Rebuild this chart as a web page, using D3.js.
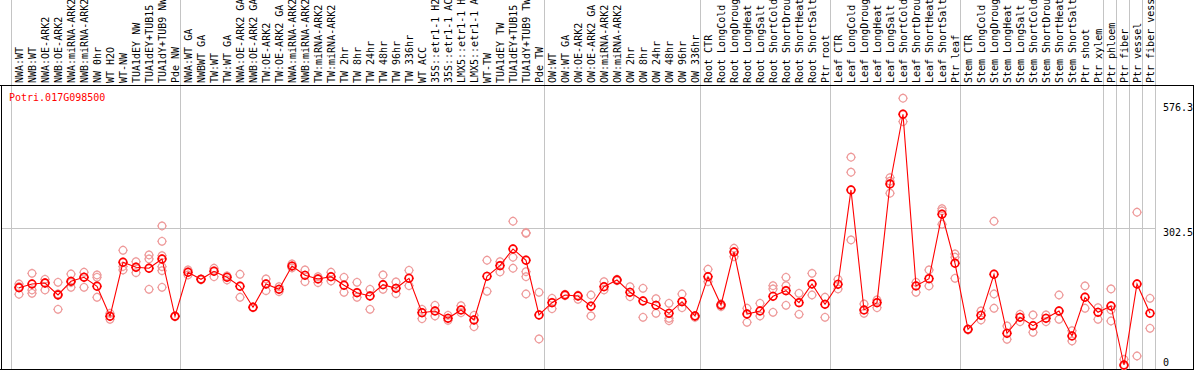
<!DOCTYPE html>
<html>
<head>
<meta charset="utf-8">
<script src="https://cdn.jsdelivr.net/npm/d3@7"></script>
<style>
  body { margin: 0; background: #fff; }
  text { font-family: "DejaVu Sans Mono", "Liberation Mono", monospace; font-size: 10px; }
</style>
</head>
<body>
<svg id="chart"></svg>
<script>
var geneId = "Potri.017G098500";

var sampleLabels = [
  "NWA:WT", "NWB:WT", "NWA:OE-ARK2", "NWB:OE-ARK2", "NWA:miRNA-ARK2", "NWB:miRNA-ARK2",
  "NW 0hr", "WT H2O", "WT-NW", "TUA1dEY NW", "TUA1dEY+TUB15 NW", "TUA1dY+TUB9 NW", "Pde NW",
  "NWA:WT GA", "NWBWT GA", "TW:WT", "TW:WT GA", "NWA:OE-ARK2 GA", "NWB:OE-ARK2 GA",
  "TW:OE-ARK2", "TW:OE-ARK2 GA", "NWA:miRNA-ARK2 GA", "NWB:miRNA-ARK2 GA", "TW:miRNA-ARK2",
  "TW:miRNA-ARK2 GA", "TW 2hr", "TW 8hr", "TW 24hr", "TW 48hr", "TW 96hr", "TW 336hr",
  "WT ACC", "35S::etr1-1 H2O", "35S::etr1-1 ACC", "LMX5::etr1-1 H2O", "LMX5::etr1-1 ACC",
  "WT-TW", "TUA1dEY TW", "TUA1dEY+TUB15 TW", "TUA1dY+TUB9 TW", "Pde TW",
  "OW:WT", "OW:WT GA", "OW:OE-ARK2", "OW:OE-ARK2 GA", "OW:miRNA-ARK2", "OW:miRNA-ARK2 GA",
  "OW 2hr", "OW 8hr", "OW 24hr", "OW 48hr", "OW 96hr", "OW 336hr",
  "Root CTR", "Root LongCold", "Root LongDrought", "Root LongHeat", "Root LongSalt",
  "Root ShortCold", "Root ShortDrought", "Root ShortHeat", "Root ShortSalt", "Ptr root",
  "Leaf CTR", "Leaf LongCold", "Leaf LongDrought", "Leaf LongHeat", "Leaf LongSalt",
  "Leaf ShortCold", "Leaf ShortDrought", "Leaf ShortHeat", "Leaf ShortSalt", "Ptr leaf",
  "Stem CTR", "Stem LongCold", "Stem LongDrought", "Stem LongHeat", "Stem LongSalt",
  "Stem ShortCold", "Stem ShortDrought", "Stem ShortHeat", "Stem ShortSalt", "Ptr shoot", "Ptr xylem",
  "Ptr phloem", "Ptr fiber", "Ptr vessel", "Ptr fiber vessel"
];

// number of samples in each block between the grey separators
var groupSizes = [13, 28, 12, 10, 10, 11, 1, 1, 1, 1];

var meanValues = [
  171.6, 179.7, 181.9, 155.6, 185.6, 194.4, 174.7, 108.9, 227.3, 216.4, 214.2, 234.5, 108.9,
  205.4, 190.0, 207.6, 194.4, 174.7, 128.7, 179.7, 168.1, 219.0, 198.8, 190.7, 195.7, 176.9,
  160.7, 153.4, 178.2, 170.3, 192.2, 116.8, 120.6, 104.5, 122.8, 100.8, 196.6, 219.9, 256.5,
  231.7, 111.8,
  138.8, 155.6, 153.4, 131.0, 173.8, 188.5, 161.5, 142.5, 133.0, 115.5, 141.0, 109.6,
  195.7, 133.7, 249.9, 114.0, 120.6, 152.7, 165.1, 138.8, 179.7, 135.2,
  179.0, 385.8, 122.8, 138.8, 398.9, 551.7, 175.4, 191.4, 332.5, 225.1,
  80.4, 111.1, 201.0, 71.6, 106.7, 88.3, 104.5, 120.6, 65.8, 150.6, 117.7,
  131.5, 2.2, 179.7, 115.5
];

var replicateValues = [
  [179.7, 173.8, 157.2], [203, 166.6, 159.3], [190, 166.6, 182], [183.4, 124.2, 158],
  [201.6, 172.4, 183], [205.4, 172.4, 195], [199.5, 194.4, 150.6], [115.5, 102.4, 109],
  [253.6, 210.4, 218], [228.6, 204.5, 216], [243.3, 234.5, 168.1],
  [306.9, 273.3, 241.8, 217.7, 208.9, 172.4], [110, 108],
  [210.4, 199.5], [191, 189], [214.2, 195.7], [197.3, 188.5], [201, 150.6], [129, 128],
  [190.7, 165.1], [173.8, 162.9], [223.6, 215], [210.4, 184.8], [195.7, 182.6],
  [205.4, 186.3], [194.4, 161.5], [183.4, 150.6], [168.1, 124.2], [199.5, 168.1],
  [184.1, 158.5], [209.7, 176], [124.2, 103.7], [133, 109.6], [111.1, 100], [132.2, 116.8],
  [111.1, 86.1], [231.7, 163.7], [228.6, 206.1], [317.2, 238.3, 214.2],
  [292.2, 290.8, 206.7, 195.7, 157.8], [161.5, 59.2],
  [148.4, 125.6], [157, 154], [146.2, 155], [155.6, 109.6], [184.8, 166.6], [190, 187],
  [173.8, 151.9], [170.3, 106.7], [147.5, 115.5], [137.4, 104.5, 99.3], [157.8, 127.8],
  [106.5, 110],
  [212, 184.8], [130, 136], [258, 239.6], [126.5, 95.8], [137.4, 109.6], [176, 168.8, 117.7],
  [194.4, 176, 133], [159.3, 113.3], [203, 155.6], [150.6, 106.7],
  [190, 168.8], [457.5, 424.6, 276.2], [135.9, 115.5], [144.7, 127.8], [412.8, 378.6, 405],
  [586.8, 535.5], [183.4, 161.5], [210.4, 175.4], [344.8, 310.6, 340], [245.5, 238.3, 192.2],
  [78.9, 81], [120.6, 100.8], [317.2, 157.8, 126.5], [87.7, 58.5], [113.3, 97.1],
  [111.8, 73.9], [111.8, 97.1], [155.6, 102.4], [77.4, 54.8], [175.4, 126.5], [127.8, 102.4],
  [168.8, 122.8, 98.6], [14.6, 0], [336.9, 21.9], [148.4, 82.6]
];

var yTicks = [0, 302.5, 576.3];
var gridValues = [302.5];

var width = 1194, height = 370;
var svg = d3.select("#chart").attr("width", width).attr("height", height);

var x = d3.scaleBand()
  .domain(d3.range(sampleLabels.length))
  .range([11, 1155])
  .padding(0);
var y = d3.scaleLinear().domain([0, 576.3]).range([366, 103]);

function cx(i) { return x(i) + 8; }

svg.append("rect").attr("width", width).attr("height", height).attr("fill", "#fff");

// group separators
var bounds = [0];
groupSizes.forEach(function(n) { bounds.push(bounds[bounds.length - 1] + n); });
svg.selectAll("line.sep")
  .data(bounds)
  .enter().append("line")
  .attr("class", "sep")
  .attr("x1", function(b) { return (b < sampleLabels.length ? x(b) : x.range()[1]) + 0.5; })
  .attr("x2", function(b) { return (b < sampleLabels.length ? x(b) : x.range()[1]) + 0.5; })
  .attr("y1", 0).attr("y2", 369)
  .attr("stroke", "#c4c4c4").attr("stroke-width", 1);

svg.selectAll("line.hgrid")
  .data(gridValues)
  .enter().append("line")
  .attr("class", "hgrid")
  .attr("x1", 2).attr("x2", 1155)
  .attr("y1", function(d) { return Math.round(y(d)) + 0.5; })
  .attr("y2", function(d) { return Math.round(y(d)) + 0.5; })
  .attr("stroke", "#c4c4c4");

// frame
svg.append("line").attr("x1", 0).attr("x2", width).attr("y1", 85.5).attr("y2", 85.5).attr("stroke", "#000");
svg.append("line").attr("x1", 0).attr("x2", width).attr("y1", 369.5).attr("y2", 369.5).attr("stroke", "#000");
svg.append("line").attr("x1", 1.5).attr("x2", 1.5).attr("y1", 85).attr("y2", 370).attr("stroke", "#000");
svg.append("line").attr("x1", 1193.5).attr("x2", 1193.5).attr("y1", 85).attr("y2", 370).attr("stroke", "#000");

// sample labels, rotated (long ones run off the top, as in the original)
svg.append("g")
  .selectAll("text")
  .data(sampleLabels)
  .enter().append("text")
  .attr("transform", function(d, i) { return "translate(" + (cx(i) + 3.5) + ",83) rotate(-90)"; })
  .attr("fill", "#000")
  .text(function(d) { return d; });

svg.append("text")
  .attr("x", 9).attr("y", 101)
  .attr("fill", "#ff0000")
  .text(geneId);

// right-hand value labels
svg.selectAll("text.ytick")
  .data(yTicks)
  .enter().append("text")
  .attr("class", "ytick")
  .attr("x", 1163)
  .attr("y", function(d) { return Math.min(y(d) + 8, 366); })
  .attr("fill", "#000")
  .text(function(d) { return d; });

function marker(g, r) {
  g.append("circle").attr("r", r).attr("fill", "none");
  g.append("path")
    .attr("stroke-width", 1)
    .attr("d", "M0," + (-r - 1) + "V" + (-r) + "M0," + r + "V" + (r + 1) +
               "M" + (-r - 1) + ",0H" + (-r) + "M" + r + ",0H" + (r + 1));
}

// replicates
var reps = [];
replicateValues.forEach(function(vals, i) {
  vals.forEach(function(v) { reps.push({ i: i, v: v }); });
});
var repG = svg.append("g").attr("stroke", "#ee9a9a").attr("stroke-width", 1.2);
repG.selectAll("g")
  .data(reps)
  .enter().append("g")
  .attr("transform", function(d) { return "translate(" + cx(d.i) + "," + y(d.v) + ")"; })
  .each(function() { marker(d3.select(this), 3.8); });

// mean line
svg.append("path")
  .datum(meanValues)
  .attr("fill", "none")
  .attr("stroke", "#ff0000")
  .attr("stroke-width", 1.1)
  .attr("d", d3.line().x(function(d, i) { return cx(i); }).y(function(d) { return y(d); }));

var meanG = svg.append("g").attr("stroke", "#ff0000").attr("stroke-width", 1.7);
meanG.selectAll("g")
  .data(meanValues)
  .enter().append("g")
  .attr("transform", function(d, i) { return "translate(" + cx(i) + "," + y(d) + ")"; })
  .each(function() { marker(d3.select(this), 3.8); });
</script>
</body>
</html>
